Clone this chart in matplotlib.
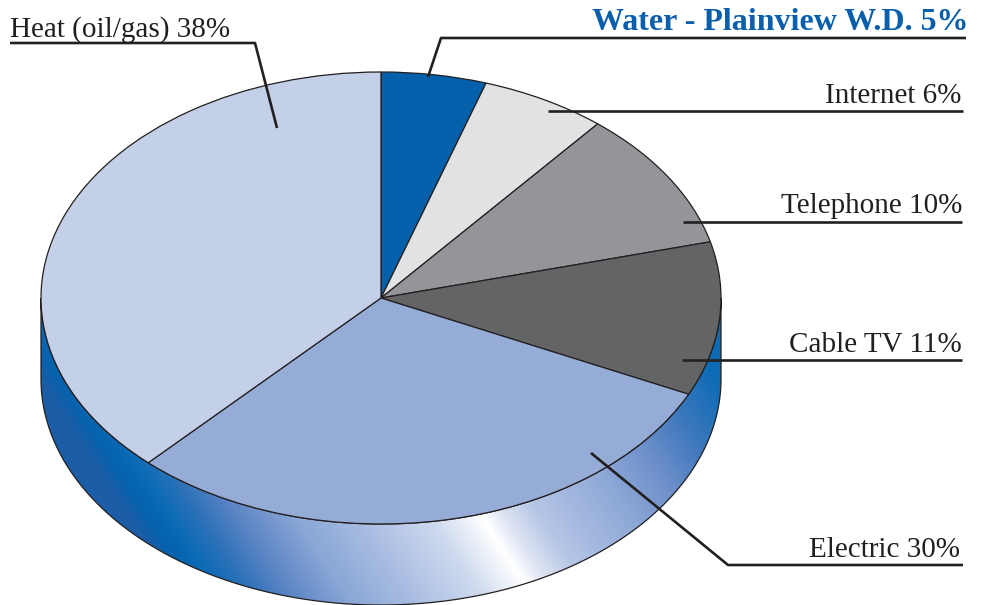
import numpy as np
import matplotlib.pyplot as plt
from matplotlib.patches import Wedge, Polygon
from matplotlib.transforms import Affine2D
from matplotlib.colors import LinearSegmentedColormap

# household utility costs, share of total (%)
labels = ['Water - Plainview W.D.', 'Internet', 'Telephone', 'Cable TV', 'Electric', 'Heat (oil/gas)']
shares = [5, 6, 10, 11, 30, 38]
colors = ['#0560ab', '#e1e2e4', '#939598', '#636466', '#95acd6', '#c4cfe8']

# pie geometry in pixel space (y grows downwards)
cx, cy, rx, ry, depth = 381, 298, 340, 226, 81
ink = '#231f20'

fig = plt.figure(figsize=(9.83, 6.05), dpi=100)
ax = fig.add_axes([0, 0, 1, 1])
ax.set_xlim(0, 983)
ax.set_ylim(605, 0)
ax.axis('off')

# side of the cylinder: lower half of the ellipse pushed down by depth
t = np.linspace(np.pi, 2 * np.pi, 300)
ex = cx + rx * np.cos(t)
ey = cy - ry * np.sin(t)
side = np.vstack([np.column_stack([ex, ey]), np.column_stack([ex[::-1], ey[::-1] + depth])])
side_patch = Polygon(side, closed=True, fc='none', ec=ink, lw=0.9, zorder=2)
ax.add_patch(side_patch)

# metallic blue gradient, stripes slanted like the original artwork
stops = [(150, '#1b5ea7'), (168, '#0662ad'), (190, '#0b6bb5'), (222, '#2d72b9'),
         (258, '#5a84c4'), (315, '#89a6d6'), (380, '#a9bde2'), (450, '#cdd9ee'),
         (503, '#ffffff'), (525, '#dfe6f4'), (563, '#b5c5e6'), (652, '#8da8d6'),
         (712, '#6d8fca'), (768, '#3d78bd'), (830, '#0c6bb5')]
p0, p1 = stops[0][0], stops[-1][0]
grad = LinearSegmentedColormap.from_list('side', [((p - p0) / (p1 - p0), c) for p, c in stops])
gx, gy = np.meshgrid(np.arange(0, 983), np.arange(290, 606))
u = (gx - 0.65 * (gy - 550) - p0) / (p1 - p0)
img = ax.imshow(np.clip(u, 0, 1), cmap=grad, vmin=0, vmax=1,
                extent=(0, 983, 606, 290), aspect='auto', zorder=1, interpolation='bilinear')
img.set_clip_path(side_patch)

# top face: slices run clockwise from 12 o'clock
to_px = Affine2D().scale(rx, -ry).translate(cx, cy) + ax.transData
start = 90.0
for share, col in zip(shares, colors):
    end = start - share * 3.6
    ax.add_patch(Wedge((0, 0), 1, end, start, fc=col, ec=ink, lw=0.9,
                       transform=to_px, zorder=3))
    start = end

# leader lines and labels
lw = 1.9
fs = 21
tfont = 'Liberation Serif'
ax.plot([10, 255, 277], [43, 43, 128], color=ink, lw=lw, zorder=4, solid_capstyle='butt')
ax.text(10, 37, f'{labels[5]} {shares[5]}%', fontsize=fs, family=tfont, color=ink, ha='left', va='baseline')

ax.plot([428, 441, 966], [77, 38, 38], color=ink, lw=lw, zorder=4, solid_capstyle='butt')
ax.text(968, 30, f'{labels[0]} {shares[0]}%', fontsize=23, family=tfont, weight='bold',
        color='#0a5fac', ha='right', va='baseline')

ax.plot([548, 963], [111, 111], color=ink, lw=lw, zorder=4, solid_capstyle='butt')
ax.text(961, 103, f'{labels[1]} {shares[1]}%', fontsize=fs, family=tfont, color=ink, ha='right', va='baseline')

ax.plot([683, 962], [222, 222], color=ink, lw=lw, zorder=4, solid_capstyle='butt')
ax.text(962, 213, f'{labels[2]} {shares[2]}%', fontsize=fs, family=tfont, color=ink, ha='right', va='baseline')

ax.plot([682, 962], [360, 360], color=ink, lw=lw, zorder=4, solid_capstyle='butt')
ax.text(962, 352, f'{labels[3]} {shares[3]}%', fontsize=fs, family=tfont, color=ink, ha='right', va='baseline')

ax.plot([591, 728, 963], [453, 565, 565], color=ink, lw=lw, zorder=4, solid_capstyle='butt')
ax.text(960, 557, f'{labels[4]} {shares[4]}%', fontsize=fs, family=tfont, color=ink, ha='right', va='baseline')

fig.savefig('out.png', dpi=100)
